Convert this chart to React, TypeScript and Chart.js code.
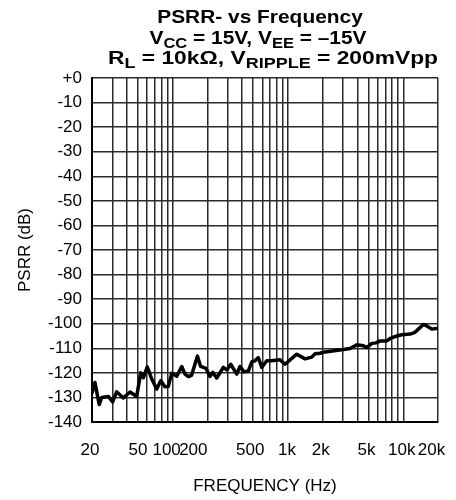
import React, { useEffect, useRef } from 'react';
import { Chart, registerables } from 'chart.js';

Chart.register(...registerables);

// ---- data ----
const frequencyHz = [
  20, 21.2, 23.1, 24.3, 27.7, 30.2, 32.7, 37.4, 42.7, 48.8,
  52.9, 55.7, 60.3, 65.9, 72.8, 78.9, 85.9, 91.8, 98.2, 108.6,
  120, 128, 137, 146, 164, 175, 195, 211, 223, 241,
  275, 295, 319, 360, 384, 416, 454, 486, 519, 554,
  593, 655, 724, 854, 944, 1193, 1408, 1608, 1718, 1898,
  2028, 3128, 3458, 3952, 4508, 4826, 5334, 5810, 6294, 7194,
  7700, 8784, 9710, 11456, 12500, 13096, 14940, 15994, 17672, 20000,
];
const psrrDb = [
  -128.2, -123.9, -132.9, -130.0, -129.6, -131.8, -127.7, -130.2, -127.8, -129.6,
  -120.0, -122.0, -117.6, -122.5, -126.6, -123.2, -125.7, -125.5, -120.2, -121.4,
  -117.4, -120.5, -121.5, -121.0, -113.2, -117.4, -118.2, -121.5, -119.8, -122.1,
  -117.8, -118.8, -116.5, -120.5, -117.4, -119.6, -119.2, -115.5, -115.1, -113.8,
  -117.8, -115.1, -115.1, -114.7, -116.5, -112.4, -114.3, -113.6, -112.2, -112.0,
  -111.6, -110.4, -110.1, -108.6, -109.0, -109.7, -108.0, -107.8, -107.0, -107.0,
  -106.0, -105.0, -104.5, -104.2, -103.6, -102.8, -100.3, -100.9, -102.2, -101.8,
];

const xMin = 20;
const xMax = 20000;
const yMin = -140;
const yMax = 0;
const yStep = 10;

const xGridValues = [
  20, 30, 40, 50, 60, 70, 80, 90,
  100, 200, 300, 400, 500, 600, 700, 800, 900,
  1000, 2000, 3000, 4000, 5000, 6000, 7000, 8000, 9000,
  10000, 20000,
];
const xLabelValues = [20, 50, 100, 200, 500, 1000, 2000, 5000, 10000, 20000];
const xLabelTexts = ['20', '50', '100', '200', '500', '1k', '2k', '5k', '10k', '20k'];

const titleLine1 = [{ text: 'PSRR- vs Frequency', sub: false }];
const titleLine2 = [
  { text: 'V', sub: false },
  { text: 'CC', sub: true },
  { text: ' = 15V, V', sub: false },
  { text: 'EE', sub: true },
  { text: ' = \u201315V', sub: false },
];
const titleLine3 = [
  { text: 'R', sub: false },
  { text: 'L', sub: true },
  { text: ' = 10k\u03A9, V', sub: false },
  { text: 'RIPPLE', sub: true },
  { text: ' = 200mVpp', sub: false },
];
const xAxisTitle = 'FREQUENCY (Hz)';
const yAxisTitle = 'PSRR (dB)';

// ---- styling ----
const FAMILY = '"Liberation Sans", Arial, Helvetica, sans-serif';
const GRID_COLOR = '#2b2b2b';
const LABEL_SHIFT = [-2, 0, -6, -14, -3, -1, -2, -2, -1.5, -6.5];

type Seg = { text: string; sub: boolean };

function drawRichLine(
  ctx: CanvasRenderingContext2D,
  segs: Seg[],
  cx: number,
  baseline: number,
  stretch: number
) {
  const mainFont = `bold 19px ${FAMILY}`;
  const subFont = `bold 15px ${FAMILY}`;
  let total = 0;
  const widths = segs.map((s) => {
    ctx.font = s.sub ? subFont : mainFont;
    const w = ctx.measureText(s.text).width;
    total += w;
    return w;
  });
  ctx.save();
  ctx.translate(cx, baseline);
  ctx.scale(stretch, 1);
  let x = -total / 2;
  segs.forEach((s, i) => {
    ctx.font = s.sub ? subFont : mainFont;
    ctx.fillText(s.text, x, s.sub ? 4 : 0);
    x += widths[i];
  });
  ctx.restore();
}

const overlayPlugin = {
  id: 'overlayText',
  afterDraw(chart: any) {
    const ctx: CanvasRenderingContext2D = chart.ctx;
    const xs = chart.scales.x;
    ctx.save();
    ctx.fillStyle = '#000';
    ctx.textAlign = 'left';
    ctx.textBaseline = 'alphabetic';
    drawRichLine(ctx, titleLine1, 260, 23, 1.1);
    drawRichLine(ctx, titleLine2, 258, 44, 1.1);
    drawRichLine(ctx, titleLine3, 273, 64, 1.2);

    ctx.font = `17px ${FAMILY}`;
    ctx.textAlign = 'center';
    xLabelValues.forEach((v, i) => {
      ctx.fillText(xLabelTexts[i], xs.getPixelForValue(v) + LABEL_SHIFT[i], 455);
    });
    ctx.restore();
  },
};

export default function App() {
  const canvasRef = useRef<HTMLCanvasElement | null>(null);

  useEffect(() => {
    document.body.style.margin = '0';
    const canvas = canvasRef.current;
    if (!canvas) return;
    const points = frequencyHz.map((f, i) => ({ x: f, y: psrrDb[i] }));
    const chart = new Chart(canvas, {
      type: 'line',
      data: {
        datasets: [
          {
            data: points,
            borderColor: '#000',
            borderWidth: 3.5,
            pointRadius: 0,
            tension: 0,
            fill: false,
            borderJoinStyle: 'round',
            borderCapStyle: 'round',
          },
        ],
      },
      options: {
        animation: false,
        responsive: false,
        devicePixelRatio: 1,
        layout: { padding: { top: 78, right: 18, left: 0, bottom: 0 } },
        plugins: {
          legend: { display: false },
          tooltip: { enabled: false },
          title: { display: false },
        },
        scales: {
          x: {
            type: 'logarithmic',
            min: xMin,
            max: xMax,
            afterBuildTicks: (s: any) => {
              s.ticks = xGridValues.map((v) => ({ value: v }));
            },
            afterFit: (s: any) => {
              s.height = 78;
            },
            ticks: { display: false },
            grid: { color: GRID_COLOR, lineWidth: 1.5, drawTicks: false },
            border: { display: true, color: '#000', width: 2 },
            title: {
              display: true,
              text: xAxisTitle,
              color: '#000',
              font: { family: FAMILY, size: 17 },
              padding: { top: 0, bottom: 3 },
            },
          },
          y: {
            type: 'linear',
            min: yMin,
            max: yMax,
            afterFit: (s: any) => {
              s.width = 92;
            },
            ticks: {
              stepSize: yStep,
              color: '#000',
              font: { family: FAMILY, size: 17 },
              padding: 10,
              callback: (v: any) => (Number(v) === 0 ? '+0' : String(v)),
            },
            grid: { color: GRID_COLOR, lineWidth: 1.5, drawTicks: false },
            border: { display: true, color: '#000', width: 2 },
            title: {
              display: true,
              text: yAxisTitle,
              color: '#000',
              font: { family: FAMILY, size: 17 },
              padding: { top: 15, bottom: 0 },
            },
          },
        },
      },
      plugins: [overlayPlugin],
    } as any);
    return () => chart.destroy();
  }, []);

  return (
    <div style={{ width: 456, height: 500 }}>
      <canvas ref={canvasRef} width={456} height={500} />
    </div>
  );
}
